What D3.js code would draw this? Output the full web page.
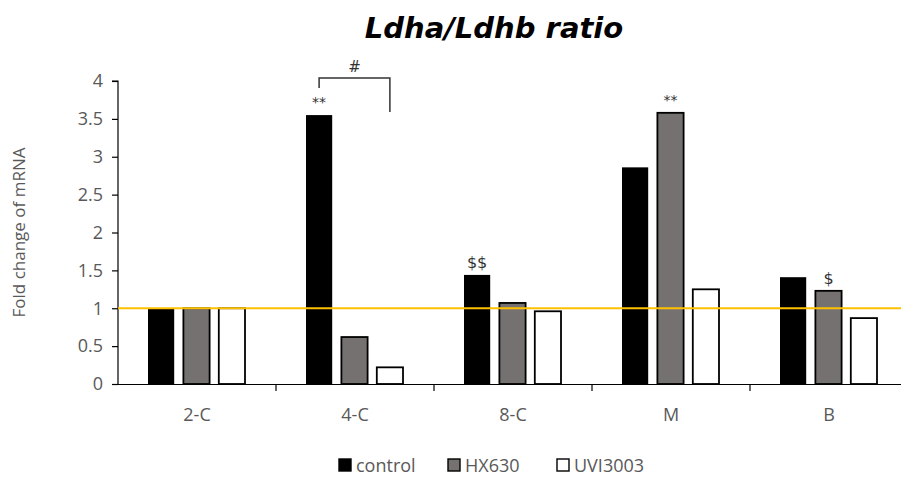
<!DOCTYPE html>
<html><head><meta charset="utf-8">
<script src="https://cdn.jsdelivr.net/npm/d3@7"></script>
<style>body{margin:0;background:#fff}svg{display:block}</style>
</head><body><svg id="c" width="901" height="480"></svg>
<script>
const categories = ["2-C", "4-C", "8-C", "M", "B"];
const seriesNames = ["control", "HX630", "UVI3003"];
const control = [1.0, 3.55, 1.44, 2.86, 1.41];
const hx630 = [1.0, 0.62, 1.07, 3.58, 1.23];
const uvi3003 = [1.0, 0.22, 0.96, 1.25, 0.87];
const yTicks = [0, 0.5, 1, 1.5, 2, 2.5, 3, 3.5, 4];
const refValue = 1;
// annotations: [category, series index, text]
const marks = [["4-C", 0, "**"], ["M", 1, "**"], ["8-C", 0, "$$"], ["B", 1, "$"]];

const series = [control, hx630, uvi3003];
const fills = ["#000000", "#767171", "#ffffff"];
const svg = d3.select("#c");
const mLeft = 118, mRight = 908, mTop = 81, mBottom = 384;
const x = d3.scaleBand().domain(categories).range([mLeft, mRight]).paddingInner(0).paddingOuter(0);
const inner = d3.scaleBand().domain(seriesNames).range([30, 127]).paddingInner(0.26);
const y = d3.scaleLinear().domain([0, 4]).range([mBottom, mTop]);

// title
svg.append("text").attr("x", 494).attr("y", 38).attr("text-anchor", "middle")
  .attr("font-family", "DejaVu Sans").attr("font-weight", "bold").attr("font-style", "italic")
  .attr("font-size", 29).attr("fill", "#000").text("Ldha/Ldhb ratio");

// y axis
const ya = svg.append("g").attr("transform", `translate(${mLeft},0)`)
  .call(d3.axisLeft(y).tickValues(yTicks).tickSize(6).tickPadding(9).tickFormat(d => d));
ya.selectAll("path,line").attr("stroke", "#000").attr("stroke-width", 1.2);
ya.select(".domain").attr("d", `M-6,${y(4)}H0V${mBottom}`);
ya.selectAll("text").attr("font-family", "Open Sans").attr("font-size", 18).attr("fill", "#595959");

// x axis
const xa = svg.append("g").attr("transform", `translate(0,${mBottom})`)
  .call(d3.axisBottom(x).tickSize(0).tickPadding(24));
xa.select(".domain").attr("stroke", "#000").attr("stroke-width", 1.2).attr("d", `M${mLeft},0.5H${mRight}`);
xa.selectAll("text").attr("font-family", "Open Sans").attr("font-size", 18).attr("fill", "#595959");
xa.selectAll(".sep").data(categories.slice(1)).join("line").attr("class", "sep")
  .attr("x1", d => x(d)).attr("x2", d => x(d)).attr("y1", 0).attr("y2", 7)
  .attr("stroke", "#000").attr("stroke-width", 1.2);

// bars
series.forEach((vals, si) => {
  svg.append("g").selectAll("rect").data(vals).join("rect")
    .attr("x", (d, i) => x(categories[i]) + inner(seriesNames[si]))
    .attr("y", d => y(d))
    .attr("width", inner.bandwidth())
    .attr("height", d => mBottom - y(d))
    .attr("fill", fills[si])
    .attr("stroke", si === 0 ? "none" : "#000")
    .attr("stroke-width", 1.8);
});

// reference line
svg.append("line").attr("x1", mLeft).attr("x2", 901).attr("y1", y(refValue)).attr("y2", y(refValue))
  .attr("stroke", "#FFC000").attr("stroke-width", 2);

// annotations
marks.forEach(([c, si, t]) => {
  const v = series[si][categories.indexOf(c)];
  svg.append("text").attr("x", x(c) + inner(seriesNames[si]) + inner.bandwidth() / 2)
    .attr("y", y(v) - (t.startsWith("*") ? 8 : 7)).attr("text-anchor", "middle")
    .attr("font-family", "DejaVu Sans").attr("font-size", t.startsWith("*") ? 14 : 16)
    .attr("fill", "#333").text(t);
});

// bracket 4-C control vs UVI3003
{
  const c = "4-C";
  const x1 = x(c) + inner("control") + inner.bandwidth() / 2;
  const x2 = x(c) + inner("UVI3003") + inner.bandwidth() / 2;
  const yTop = y(4) - 3;
  svg.append("path").attr("d", `M${x1},${y(3.59) - 24}V${yTop}H${x2}V${y(3.59)}`)
    .attr("fill", "none").attr("stroke", "#333").attr("stroke-width", 1.5);
  svg.append("text").attr("x", (x1 + x2) / 2).attr("y", yTop - 6).attr("text-anchor", "middle")
    .attr("font-family", "DejaVu Sans").attr("font-size", 15).attr("fill", "#333").text("#");
}

// y label
svg.append("text").attr("transform", `translate(25,${(mTop + mBottom) / 2}) rotate(-90)`)
  .attr("text-anchor", "middle").attr("font-family", "Open Sans").attr("font-size", 17)
  .attr("fill", "#595959").text("Fold change of mRNA");

// legend
const legX = [339, 448, 557];
const lg = svg.append("g");
seriesNames.forEach((n, i) => {
  lg.append("rect").attr("x", legX[i]).attr("y", 459).attr("width", 12).attr("height", 12)
    .attr("fill", fills[i]).attr("stroke", "#000").attr("stroke-width", 1.4);
  lg.append("text").attr("x", legX[i] + 17).attr("y", 472).attr("font-family", "Open Sans")
    .attr("font-size", 18).attr("fill", "#595959").text(n);
});
</script></body></html>
